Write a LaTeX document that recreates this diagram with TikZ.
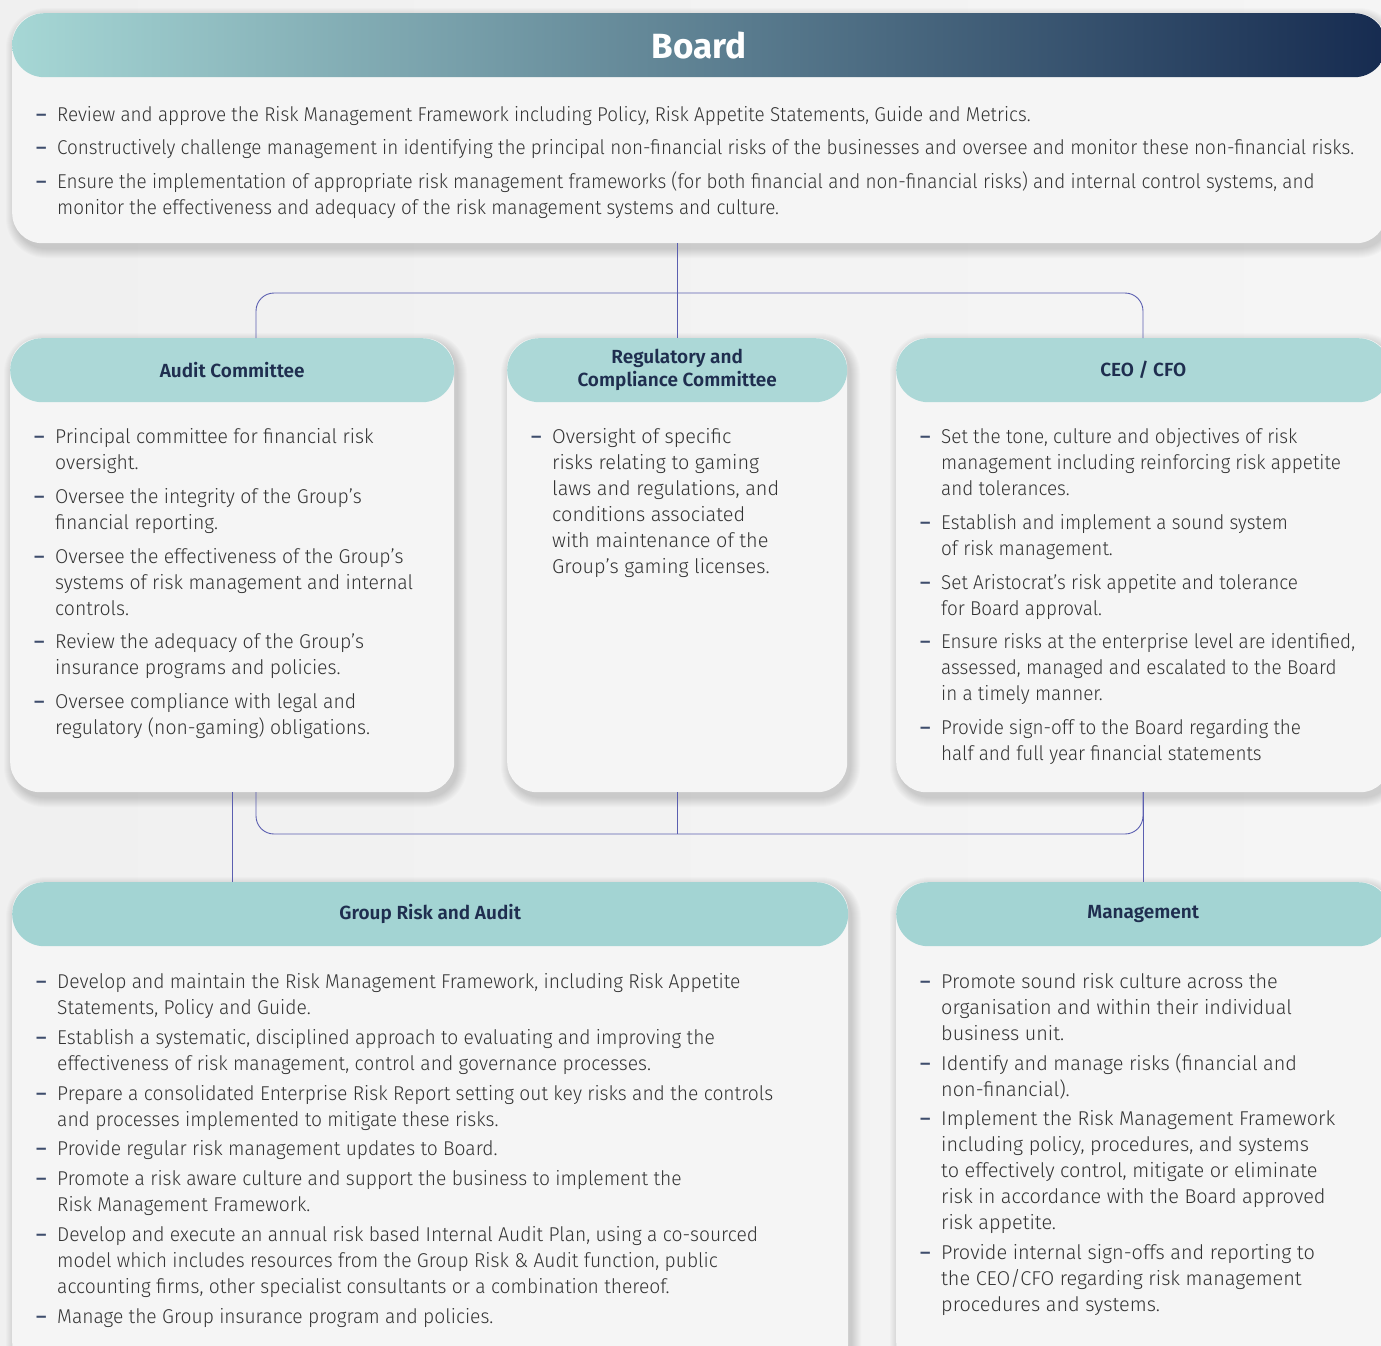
\documentclass[tikz,border=0pt]{standalone}
\usepackage{fontspec}
\usepackage{graphicx}
\setmainfont{Fira Sans}[UprightFont=* Light, BoldFont=* SemiBold]
\newfontfamily\headfont{Fira Sans}[UprightFont=* Medium, BoldFont=* Bold]
\definecolor{bgL}{HTML}{F0F0F0}
\definecolor{bgR}{HTML}{F5F5F5}
\definecolor{bodyfill}{HTML}{F5F5F5}
\definecolor{hdrA}{HTML}{ACD8D7}
\definecolor{hdrB}{HTML}{A3D4D3}
\definecolor{boardL}{HTML}{A6D7D5}
\definecolor{boardR}{HTML}{162B50}
\definecolor{titlecol}{HTML}{1F2E4F}
\definecolor{txtcol}{HTML}{333333}
\definecolor{dashcol}{HTML}{3E4D6C}
\definecolor{conncol}{HTML}{5B5FB0}
\newcommand\bodyfont{\fontsize{20}{26}\selectfont}
\newlength\fitlen
\newcommand\itx[2]{\makebox[21pt][l]{\textcolor{dashcol}{\headfont –}}\scalebox{#1}[1]{\begin{tabular}[t]{@{}l@{}}#2\end{tabular}}}
% soft shadow under a box: x1 y1 x2 y2 (y downwards)
\newcommand\softshadow[4]{%
  \foreach \k in {1,...,10}{%
    \fill[black, opacity=0.015, rounded corners={30pt+\k pt}]
      ({#1+4-\k},{#2+5-\k}) rectangle ({#3+3+\k},{#4+5+\k});
  }}
\begin{document}
\settowidth\fitlen{\bodyfont Constructively challenge management in identifying the principal non-financial risks of the businesses and oversee and monitor these non-financial risks.}\pgfmathsetmacro\rBoard{1297/\fitlen}%
\settowidth\fitlen{\bodyfont systems of risk management and internal}\pgfmathsetmacro\rAudit{358/\fitlen}%
\settowidth\fitlen{\bodyfont laws and regulations, and}\pgfmathsetmacro\rReg{227/\fitlen}%
\settowidth\fitlen{\bodyfont Ensure risks at the enterprise level are identified,}\pgfmathsetmacro\rCeo{414/\fitlen}%
\settowidth\fitlen{\bodyfont Prepare a consolidated Enterprise Risk Report setting out key risks and the controls}\pgfmathsetmacro\rGra{716/\fitlen}%
\settowidth\fitlen{\bodyfont Implement the Risk Management Framework}\pgfmathsetmacro\rMgt{394/\fitlen}%
\begin{tikzpicture}[x=1pt,y=-1pt,
  bodybox/.style={fill=bodyfill, rounded corners=30pt, inner sep=0pt, anchor=north west},
  hdr/.style={rounded corners=32pt, inner sep=0pt, anchor=north west, minimum height=64pt,
    font=\bfseries\fontsize{19}{23}\selectfont, text=titlecol, align=center},
  itm/.style={anchor=base west, inner sep=0pt, font=\bodyfont, text=txtcol},
  conn/.style={draw=conncol, line width=0.9pt}
]
\useasboundingbox (0,0) rectangle (1381,1345);
\clip (0,0) rectangle (1381,1345);
\fill[left color=bgL, right color=bgR] (0,0) rectangle (1381,1345);

% ---------- shadows ----------
\softshadow{12}{13}{1386}{243}
\softshadow{10}{338}{454}{792}
\softshadow{507}{338}{847}{792}
\softshadow{896}{338}{1390}{792}
\softshadow{12}{882}{848}{1372}
\softshadow{896}{882}{1390}{1372}

% ---------- boxes ----------
\node[bodybox, minimum width=1374pt, minimum height=230pt] (boardB) at (12,13) {};
\node[hdr, minimum width=1374pt, left color=boardL, right color=boardR, text=white,
  font=\headfont\bfseries\fontsize{35}{38}\selectfont] (boardH) at (12,13) {Board};

\node[bodybox, minimum width=444pt, minimum height=454pt] (acB) at (10,338) {};
\node[hdr, fill=hdrA, minimum width=444pt] (acH) at (10,338) {Audit Committee};

\node[bodybox, minimum width=340pt, minimum height=454pt] (rcB) at (507,338) {};
\node[hdr, fill=hdrA, minimum width=340pt] (rcH) at (507,338) {Regulatory and\\Compliance Committee};

\node[bodybox, minimum width=494pt, minimum height=454pt] (cfB) at (896,338) {};
\node[hdr, fill=hdrA, minimum width=494pt] (cfH) at (896,338) {CEO / CFO};

\node[bodybox, minimum width=836pt, minimum height=490pt] (grB) at (12,882) {};
\node[hdr, fill=hdrB, minimum width=836pt] (grH) at (12,882) {Group Risk and Audit};

\node[bodybox, minimum width=494pt, minimum height=490pt] (mgB) at (896,882) {};
\node[hdr, fill=hdrB, minimum width=494pt] (mgH) at (896,882) {Management};

% ---------- connectors ----------
\coordinate (tL) at (256,338);
\coordinate (tR) at (1143,338);
\coordinate (bL) at (256,792);
\coordinate (bR) at (1143,792);
\draw[conn] (rcH.north |- boardB.south) -- (rcH.north);
\draw[conn, rounded corners=18pt] (tL) -- (256,293) -- (1143,293) -- (tR);
\draw[conn, rounded corners=18pt] (bL) -- (256,834) -- (1143,834) -- (bR);
\draw[conn] (rcB.south) -- (rcB.south |- 0,834);
\draw[conn] (acB.south) -- (acB.south |- grH.north);
\draw[conn] (cfB.south) -- (mgH.north);

% ---------- Board items ----------
\node[itm] (b1) at (36,121) {\itx{\rBoard}{Review and approve the Risk Management Framework including Policy, Risk Appetite Statements, Guide and Metrics.}};
\node[itm] (b2) at (36,154) {\itx{\rBoard}{Constructively challenge management in identifying the principal non-financial risks of the businesses and oversee and monitor these non-financial risks.}};
\node[itm] (b3) at (36,188) {\itx{\rBoard}{Ensure the implementation of appropriate risk management frameworks (for both financial and non-financial risks) and internal control systems, and\\monitor the effectiveness and adequacy of the risk management systems and culture.}};

% ---------- Audit Committee ----------
\node[itm] (a1) at (34,443) {\itx{\rAudit}{Principal committee for financial risk\\oversight.}};
\node[itm] (a2) at (34,503) {\itx{\rAudit}{Oversee the integrity of the Group’s\\financial reporting.}};
\node[itm] (a3) at (34,563) {\itx{\rAudit}{Oversee the effectiveness of the Group’s\\systems of risk management and internal\\controls.}};
\node[itm] (a4) at (34,648) {\itx{\rAudit}{Review the adequacy of the Group’s\\insurance programs and policies.}};
\node[itm] (a5) at (34,708) {\itx{\rAudit}{Oversee compliance with legal and\\regulatory (non-gaming) obligations.}};

% ---------- Regulatory ----------
\node[itm] (r1) at (531,443) {\itx{\rReg}{Oversight of specific\\risks relating to gaming\\laws and regulations, and\\conditions associated\\with maintenance of the\\Group’s gaming licenses.}};

% ---------- CEO / CFO ----------
\node[itm] (c1) at (920,443) {\itx{\rCeo}{Set the tone, culture and objectives of risk\\management including reinforcing risk appetite\\and tolerances.}};
\node[itm] (c2) at (920,529) {\itx{\rCeo}{Establish and implement a sound system\\of risk management.}};
\node[itm] (c3) at (920,589) {\itx{\rCeo}{Set Aristocrat’s risk appetite and tolerance\\for Board approval.}};
\node[itm] (c4) at (920,648) {\itx{\rCeo}{Ensure risks at the enterprise level are identified,\\assessed, managed and escalated to the Board\\in a timely manner.}};
\node[itm] (c5) at (920,734) {\itx{\rCeo}{Provide sign-off to the Board regarding the\\half and full year financial statements}};

% ---------- Group Risk and Audit ----------
\node[itm] (g1) at (36,988) {\itx{\rGra}{Develop and maintain the Risk Management Framework, including Risk Appetite\\Statements, Policy and Guide.}};
\node[itm] (g2) at (36,1044) {\itx{\rGra}{Establish a systematic, disciplined approach to evaluating and improving the\\effectiveness of risk management, control and governance processes.}};
\node[itm] (g3) at (36,1100) {\itx{\rGra}{Prepare a consolidated Enterprise Risk Report setting out key risks and the controls\\and processes implemented to mitigate these risks.}};
\node[itm] (g4) at (36,1155) {\itx{\rGra}{Provide regular risk management updates to Board.}};
\node[itm] (g5) at (36,1185) {\itx{\rGra}{Promote a risk aware culture and support the business to implement the\\Risk Management Framework.}};
\node[itm] (g6) at (36,1241) {\itx{\rGra}{Develop and execute an annual risk based Internal Audit Plan, using a co-sourced\\model which includes resources from the Group Risk \& Audit function, public\\accounting firms, other specialist consultants or a combination thereof.}};
\node[itm] (g7) at (36,1323) {\itx{\rGra}{Manage the Group insurance program and policies.}};

% ---------- Management ----------
\node[itm] (m1) at (920,988) {\itx{\rMgt}{Promote sound risk culture across the\\organisation and within their individual\\business unit.}};
\node[itm] (m2) at (920,1070) {\itx{\rMgt}{Identify and manage risks (financial and\\non-financial).}};
\node[itm] (m3) at (920,1125) {\itx{\rMgt}{Implement the Risk Management Framework\\including policy, procedures, and systems\\to effectively control, mitigate or eliminate\\risk in accordance with the Board approved\\risk appetite.}};
\node[itm] (m4) at (920,1259) {\itx{\rMgt}{Provide internal sign-offs and reporting to\\the CEO/CFO regarding risk management\\procedures and systems.}};
\end{tikzpicture}
\end{document}
